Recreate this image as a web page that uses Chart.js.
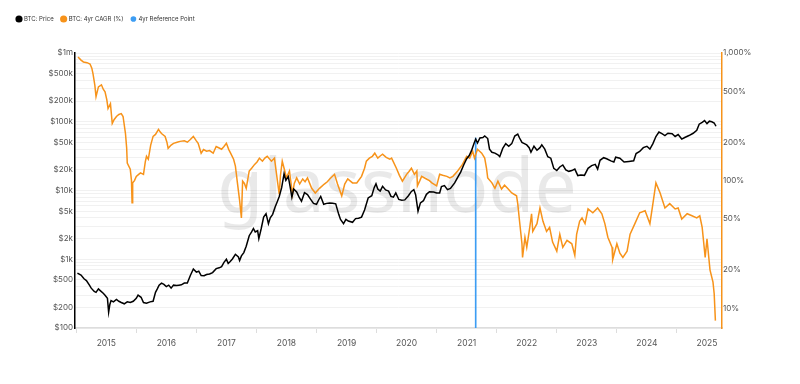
<!DOCTYPE html>
<html>
<head>
<meta charset="utf-8">
<script src="https://cdn.jsdelivr.net/npm/chart.js@4.4.1/dist/chart.umd.min.js"></script>
<style>
  html, body { margin: 0; padding: 0; background: #fff; }
  #wrap { width: 800px; height: 384px; }
</style>
</head>
<body>
<div id="wrap"><canvas id="btc-chart" width="800" height="384"></canvas></div>
<script>
// DATA (dates as decimal years)
const priceDates = [2014.52,2014.58,2014.63,2014.67,2014.72,2014.75,2014.8,2014.83,2014.87,2014.9,2014.95,2014.98,2015.02,2015.04,2015.06,2015.08,2015.12,2015.17,2015.21,2015.25,2015.3,2015.35,2015.4,2015.45,2015.5,2015.53,2015.58,2015.62,2015.67,2015.73,2015.78,2015.82,2015.85,2015.88,2015.92,2015.96,2016.0,2016.04,2016.08,2016.12,2016.17,2016.21,2016.25,2016.3,2016.35,2016.4,2016.45,2016.5,2016.54,2016.58,2016.63,2016.67,2016.72,2016.77,2016.83,2016.88,2016.92,2016.96,2017.0,2017.03,2017.06,2017.1,2017.15,2017.2,2017.22,2017.25,2017.29,2017.33,2017.38,2017.42,2017.45,2017.48,2017.52,2017.54,2017.58,2017.62,2017.66,2017.7,2017.73,2017.77,2017.81,2017.85,2017.88,2017.92,2017.96,2017.99,2018.03,2018.06,2018.09,2018.12,2018.17,2018.21,2018.25,2018.3,2018.35,2018.4,2018.45,2018.5,2018.54,2018.57,2018.62,2018.67,2018.72,2018.77,2018.82,2018.87,2018.9,2018.95,2018.99,2019.03,2019.1,2019.15,2019.2,2019.25,2019.3,2019.36,2019.42,2019.46,2019.49,2019.52,2019.56,2019.6,2019.65,2019.7,2019.74,2019.78,2019.82,2019.87,2019.92,2019.97,2020.03,2020.08,2020.12,2020.15,2020.19,2020.23,2020.28,2020.33,2020.38,2020.45,2020.5,2020.55,2020.58,2020.63,2020.68,2020.73,2020.8,2020.85,2020.9,2020.95,2021.0,2021.04,2021.08,2021.12,2021.15,2021.18,2021.22,2021.27,2021.3,2021.35,2021.38,2021.42,2021.47,2021.52,2021.55,2021.6,2021.65,2021.7,2021.75,2021.8,2021.85,2021.88,2021.92,2021.96,2022.0,2022.04,2022.07,2022.12,2022.17,2022.22,2022.25,2022.3,2022.35,2022.4,2022.45,2022.5,2022.55,2022.6,2022.65,2022.7,2022.75,2022.8,2022.85,2022.9,2022.96,2023.02,2023.08,2023.14,2023.18,2023.22,2023.28,2023.33,2023.4,2023.45,2023.48,2023.55,2023.62,2023.7,2023.78,2023.82,2023.88,2023.94,2024.0,2024.05,2024.1,2024.15,2024.2,2024.25,2024.3,2024.35,2024.42,2024.47,2024.52,2024.58,2024.63,2024.7,2024.77,2024.83,2024.87,2024.92,2024.96,2025.0,2025.04,2025.08,2025.12,2025.15];
const priceValues = [630,590,520,490,420,380,340,330,370,350,320,300,270,170,220,250,240,260,245,235,225,240,235,245,270,300,280,235,230,240,245,330,370,420,450,430,400,420,380,420,415,420,425,450,450,580,720,650,670,580,575,600,610,640,730,750,780,900,1000,870,920,1010,1180,1080,960,1120,1250,1550,2200,2500,2800,2500,2600,2000,2800,4100,4600,3300,4000,4500,5700,7000,8200,11000,17500,14000,16000,11500,8000,10500,9500,8000,7000,9300,8700,7500,6500,6300,7400,8200,6300,6500,6600,6500,6400,4500,3800,3300,3800,3600,3450,3900,3950,4100,5200,7800,8400,11000,12500,10500,9800,11500,10200,9800,8200,8000,9200,7400,7200,7300,8400,9700,10300,8700,5000,6600,7100,8800,9600,9500,9200,9200,11400,11800,10300,10700,12900,15500,18500,23500,29000,32000,38000,48000,56000,49000,58000,59000,62000,57000,40000,36000,35000,33000,31000,41000,48000,44000,48000,62000,66000,58000,50000,48000,46000,42000,36000,44000,38500,42000,46000,40000,31000,29500,21000,19500,22000,23500,20000,19000,19500,20500,16500,16800,16600,21000,23000,24000,20500,27500,30000,29000,27000,26000,30500,29500,26000,26500,27000,34500,37000,42000,44000,40000,48000,61000,71000,67000,63000,68000,67000,61000,65000,56000,59000,63000,68000,75000,92000,98000,104000,94000,102000,100000,96000,86000];

const cagrDates = [2014.53,2014.58,2014.62,2014.68,2014.73,2014.76,2014.78,2014.81,2014.83,2014.87,2014.92,2014.95,2014.98,2015.01,2015.03,2015.07,2015.1,2015.13,2015.17,2015.21,2015.25,2015.28,2015.32,2015.34,2015.35,2015.4,2015.42,2015.43,2015.44,2015.47,2015.5,2015.54,2015.57,2015.62,2015.65,2015.67,2015.7,2015.74,2015.78,2015.82,2015.87,2015.9,2015.92,2015.98,2016.01,2016.03,2016.08,2016.12,2016.18,2016.23,2016.3,2016.35,2016.4,2016.45,2016.5,2016.53,2016.58,2016.62,2016.67,2016.72,2016.78,2016.83,2016.88,2016.92,2016.96,2017.0,2017.04,2017.07,2017.12,2017.15,2017.18,2017.22,2017.25,2017.27,2017.3,2017.33,2017.38,2017.42,2017.47,2017.51,2017.55,2017.6,2017.64,2017.68,2017.75,2017.8,2017.85,2017.88,2017.9,2017.93,2017.97,2018.0,2018.05,2018.1,2018.13,2018.17,2018.22,2018.27,2018.31,2018.35,2018.42,2018.48,2018.55,2018.63,2018.68,2018.72,2018.8,2018.85,2018.92,2018.97,2019.02,2019.1,2019.17,2019.25,2019.3,2019.33,2019.38,2019.43,2019.47,2019.52,2019.56,2019.6,2019.66,2019.72,2019.75,2019.83,2019.88,2019.93,2020.0,2020.04,2020.08,2020.13,2020.17,2020.18,2020.22,2020.25,2020.33,2020.38,2020.42,2020.5,2020.55,2020.6,2020.67,2020.72,2020.77,2020.85,2020.93,2021.0,2021.05,2021.1,2021.13,2021.18,2021.25,2021.3,2021.33,2021.35,2021.42,2021.47,2021.52,2021.58,2021.63,2021.68,2021.75,2021.83,2021.85,2021.88,2021.92,2021.93,2021.97,2022.0,2022.05,2022.08,2022.1,2022.17,2022.22,2022.27,2022.33,2022.38,2022.43,2022.5,2022.55,2022.6,2022.67,2022.75,2022.8,2022.83,2022.88,2022.92,2022.97,2023.02,2023.1,2023.18,2023.25,2023.3,2023.35,2023.42,2023.43,2023.5,2023.55,2023.6,2023.67,2023.72,2023.8,2023.88,2023.97,2024.05,2024.1,2024.15,2024.22,2024.3,2024.38,2024.47,2024.52,2024.58,2024.67,2024.75,2024.83,2024.88,2024.92,2024.97,2025.0,2025.05,2025.1,2025.12,2025.14];
const cagrValues = [930,880,851,840,820,760,687,560,455,543,563,520,497,430,367,400,280,300,318,330,335,318,234,180,137,123,100,67,96,100,108,112,115,112,140,155,147,190,222,230,252,240,234,222,200,179,190,196,200,203,205,200,210,222,205,196,164,175,170,172,164,185,180,176,185,196,175,164,147,130,99,70,51,99,95,87,119,125,134,140,150,142,150,155,142,150,99,78,110,142,120,105,119,78,95,105,94,103,98,105,87,80,87,94,98,103,112,94,76,94,103,96,96,108,125,142,150,155,164,150,156,161,152,147,150,125,110,99,112,118,125,112,119,91,100,108,103,100,96,91,112,110,108,105,108,119,134,155,150,170,150,176,164,150,125,105,96,87,99,86,92,87,80,76,66,48,32,25,36,30,43,55,40,46,61,48,40,43,33,28,38,30,34,32,26,38,48,51,46,60,56,61,55,46,36,30,24,32,27,25,28,38,46,56,58,46,66,96,80,61,66,60,61,50,55,53,51,53,43,25,35,20,16,13,8];

// 4yr reference point: date and the price range of the marker
const refDate = 2021.15;
const refRange = [100, 58000];

// TICKS
const yearTicks = [2015,2016,2017,2018,2019,2020,2021,2022,2023,2024,2025];
const priceLabels = { 100: '$100', 200: '$200', 500: '$500', 1000: '$1k', 2000: '$2k', 5000: '$5k',
	10000: '$10k', 20000: '$20k', 50000: '$50k', 100000: '$100k', 200000: '$200k', 500000: '$500k', 1000000: '$1m' };
const cagrTicks = [10, 20, 50, 100, 200, 500, 1000];

const ORANGE = '#f7931a';
const BLUE = '#3d9df3';

// grid lines at every 1..9 step of each decade, labels only on 1, 2, 5
function priceGridTicks() {
	let out = [];
	for (let p = 100; p < 1000000; p *= 10)
		for (let k = 1; k <= 9; k++)
			out.push({ value: k * p });
	out.push({ value: 1000000 });
	return out;
}

function toPoints(xs, ys) {
	return xs.map((x, i) => ({ x: x, y: ys[i] }));
}

// WATERMARK BEHIND THE LINES
const watermark = {
	id: 'watermark',
	beforeDatasetsDraw(chart) {
		const ctx = chart.ctx;
		ctx.save();
		ctx.font = '75px "Noto Sans", sans-serif';
		ctx.fillStyle = 'rgba(0,0,0,0.085)';
		ctx.textAlign = 'center';
		ctx.textBaseline = 'alphabetic';
		ctx.fillText('glassnode', 397, 212);
		ctx.restore();
	}
};

// EXTRA SPACE UNDER THE LEGEND
const legendGap = {
	id: 'legendGap',
	beforeInit(chart) {
		const fit = chart.legend.fit;
		chart.legend.fit = function () {
			fit.bind(chart.legend)();
			this.height += 21;
		};
	}
};

Chart.defaults.font.family = 'Inter, "Noto Sans", sans-serif';
Chart.defaults.color = '#555';

const ctx = document.getElementById('btc-chart');
new Chart(ctx, {
	type: 'line',
	data: {
		datasets: [{
			label: 'BTC: Price',
			data: toPoints(priceDates, priceValues),
			borderColor: '#000',
			backgroundColor: '#000',
			borderWidth: 1.5,
			pointRadius: 0,
			yAxisID: 'y'
		},
		{
			label: 'BTC: 4yr CAGR (%)',
			data: toPoints(cagrDates, cagrValues),
			borderColor: ORANGE,
			backgroundColor: ORANGE,
			borderWidth: 1.5,
			pointRadius: 0,
			yAxisID: 'y1'
		},
		{
			type: 'bar',
			label: '4yr Reference Point',
			data: [{ x: refDate, y: refRange }],
			backgroundColor: BLUE,
			borderColor: BLUE,
			barThickness: 1,
			yAxisID: 'y'
		}]
	},
	options: {
		responsive: false,
		animation: false,
		layout: { padding: { top: 8, left: 9, right: 0, bottom: 0 } },
		plugins: {
			legend: {
				position: 'top',
				align: 'start',
				labels: {
					usePointStyle: true,
					pointStyle: 'circle',
					boxWidth: 4,
					boxHeight: 4,
					padding: 8,
					color: '#333',
					font: { size: 6 }
				}
			},
			tooltip: { enabled: false }
		},
		scales: {
			x: {
				type: 'linear',
				min: 2014.48,
				max: 2025.25,
				offset: false,
				afterBuildTicks: (scale) => { scale.ticks = yearTicks.map(v => ({ value: v })); },
				afterFit: (scale) => { scale.height = 56; },
				ticks: {
					autoSkip: false,
					maxRotation: 0,
					padding: 5,
					color: '#555',
					font: { size: 8.5 },
					callback: (v) => String(v)
				},
				grid: { drawOnChartArea: false, drawTicks: true, tickLength: 5, color: '#ddd' },
				border: { color: '#ddd', width: 1.5 }
			},
			y: {
				type: 'logarithmic',
				position: 'left',
				min: 100,
				max: 1000000,
				afterBuildTicks: (scale) => { scale.ticks = priceGridTicks(); },
				afterFit: (scale) => { scale.width = 66; },
				ticks: {
					autoSkip: false,
					padding: 2,
					color: '#555',
					font: { size: 8 },
					callback: (v) => priceLabels[v] || ''
				},
				grid: { color: '#f1f1f1', drawTicks: false },
				border: { color: '#000', width: 1.5 }
			},
			y1: {
				type: 'logarithmic',
				position: 'right',
				min: 7,
				max: 1000,
				afterBuildTicks: (scale) => { scale.ticks = cagrTicks.map(v => ({ value: v })); },
				afterFit: (scale) => { scale.width = 78; },
				ticks: {
					autoSkip: false,
					padding: 1,
					color: '#555',
					font: { size: 8 },
					callback: (v) => v.toLocaleString('en-US') + '%'
				},
				grid: { drawOnChartArea: false, drawTicks: false },
				border: { color: ORANGE, width: 1.5 }
			}
		}
	},
	plugins: [watermark, legendGap]
});
</script>
</body>
</html>
